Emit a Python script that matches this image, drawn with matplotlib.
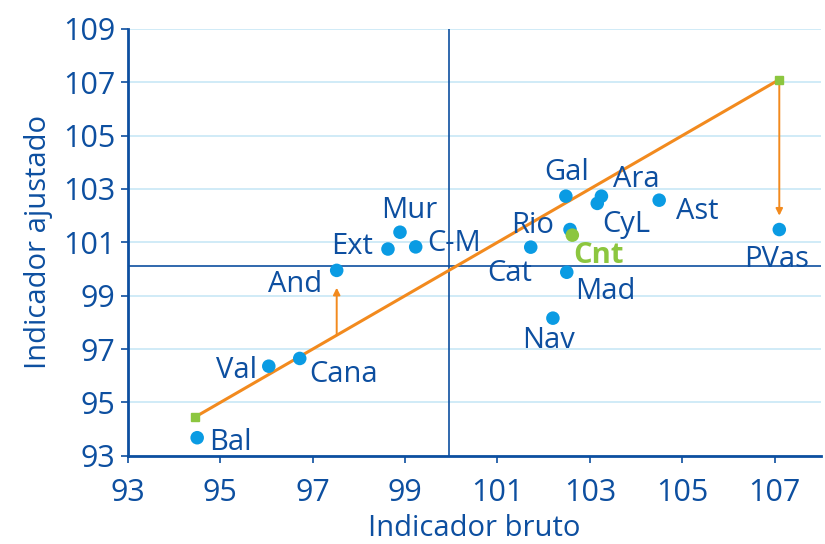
import matplotlib.pyplot as plt
import numpy as np

plt.rcParams['font.family'] = ['Open Sans', 'DejaVu Sans']

# regions: indicador bruto (x), indicador ajustado (y)
names = ['Bal', 'Val', 'Cana', 'And', 'Ext', 'Mur', 'C-M', 'Cat', 'Rio', 'Cnt',
         'Gal', 'Ara', 'CyL', 'Ast', 'Mad', 'Nav', 'PVas']
bruto = [94.5, 96.05, 96.72, 97.52, 98.63, 98.89, 99.23, 101.72, 102.57, 102.62,
         102.48, 103.25, 103.16, 104.5, 102.5, 102.2, 107.1]
ajustado = [93.68, 96.36, 96.65, 99.95, 100.75, 101.38, 100.83, 100.82, 101.48, 101.27,
            102.73, 102.73, 102.46, 102.58, 99.88, 98.16, 101.48]

# diagonal y = x between the two extremes
diag = [94.45, 107.1]
# arrows: (x, from, to)
arrows = [(97.52, 97.52, 99.3), (107.1, 107.1, 102.0)]
mean_x = 99.95
mean_y = 100.1

dark = '#0d4fa0'
dot = '#0a9be3'
orange = '#f28a1e'
green = '#8cc63f'

fig = plt.figure(figsize=(8.25, 5.44), dpi=100)
ax = fig.add_axes([0.155, 0.162, 0.84, 0.785])

ax.set_xlim(93, 108)
ax.set_ylim(93, 109)
ax.set_xticks(np.arange(93, 108, 2))
ax.set_yticks(np.arange(93, 110, 2))
ax.yaxis.grid(True, color='#c8e7f6', linewidth=1.2)
ax.set_axisbelow(True)

for s in ['top', 'right']:
    ax.spines[s].set_visible(False)
for s in ['left', 'bottom']:
    ax.spines[s].set_color(dark)
    ax.spines[s].set_linewidth(2)
ax.tick_params(colors=dark, labelsize=22, length=5, width=1.2)
ax.tick_params(axis='x', pad=11)
ax.tick_params(axis='y', pad=4)

ax.axhline(mean_y, color=dark, linewidth=1.2, zorder=2)
ax.axvline(mean_x, color=dark, linewidth=1.2, zorder=2)

ax.plot(diag, diag, color=orange, linewidth=2.2, zorder=3)
ax.plot(diag, diag, 's', color=green, markersize=6, zorder=4)
for x, y0, y1 in arrows:
    ax.annotate('', xy=(x, y1), xytext=(x, y0),
                arrowprops=dict(arrowstyle='-|>', color=orange, lw=1.4,
                                mutation_scale=10, shrinkA=0, shrinkB=0))

colors = [green if n == 'Cnt' else dot for n in names]
ax.scatter(bruto, ajustado, s=95, c=colors, edgecolors='none', zorder=5)

offsets = {
    'Bal': (12, -5, 'left'), 'Val': (-12, -4, 'right'), 'Cana': (10, -16, 'left'),
    'And': (-15, -14, 'right'), 'Ext': (-15, 3, 'right'), 'Mur': (9, 22, 'center'),
    'C-M': (12, 3, 'left'), 'Cat': (1, -26, 'right'), 'Rio': (-16, 4, 'right'),
    'Cnt': (1, -20, 'left'), 'Gal': (1, 24, 'center'), 'Ara': (12, 17, 'left'),
    'CyL': (5, -21, 'left'), 'Ast': (17, -11, 'left'), 'Mad': (8, -19, 'left'),
    'Nav': (-4, -22, 'center'), 'PVas': (-3, -30, 'center'),
}
for n, x, y in zip(names, bruto, ajustado):
    dx, dy, ha = offsets[n]
    if n == 'Cnt':
        ax.annotate(n, (x, y), xytext=(dx, dy), textcoords='offset pixels',
                    ha=ha, va='center', fontsize=21, color=green, fontweight='bold', zorder=6)
    else:
        ax.annotate(n, (x, y), xytext=(dx, dy), textcoords='offset pixels',
                    ha=ha, va='center', fontsize=21, color=dark, zorder=6)

ax.set_xlabel('Indicador bruto', fontsize=21, color=dark, labelpad=4)
ax.set_ylabel('Indicador ajustado', fontsize=21, color=dark, labelpad=7)

fig.savefig('out.png', dpi=100)
